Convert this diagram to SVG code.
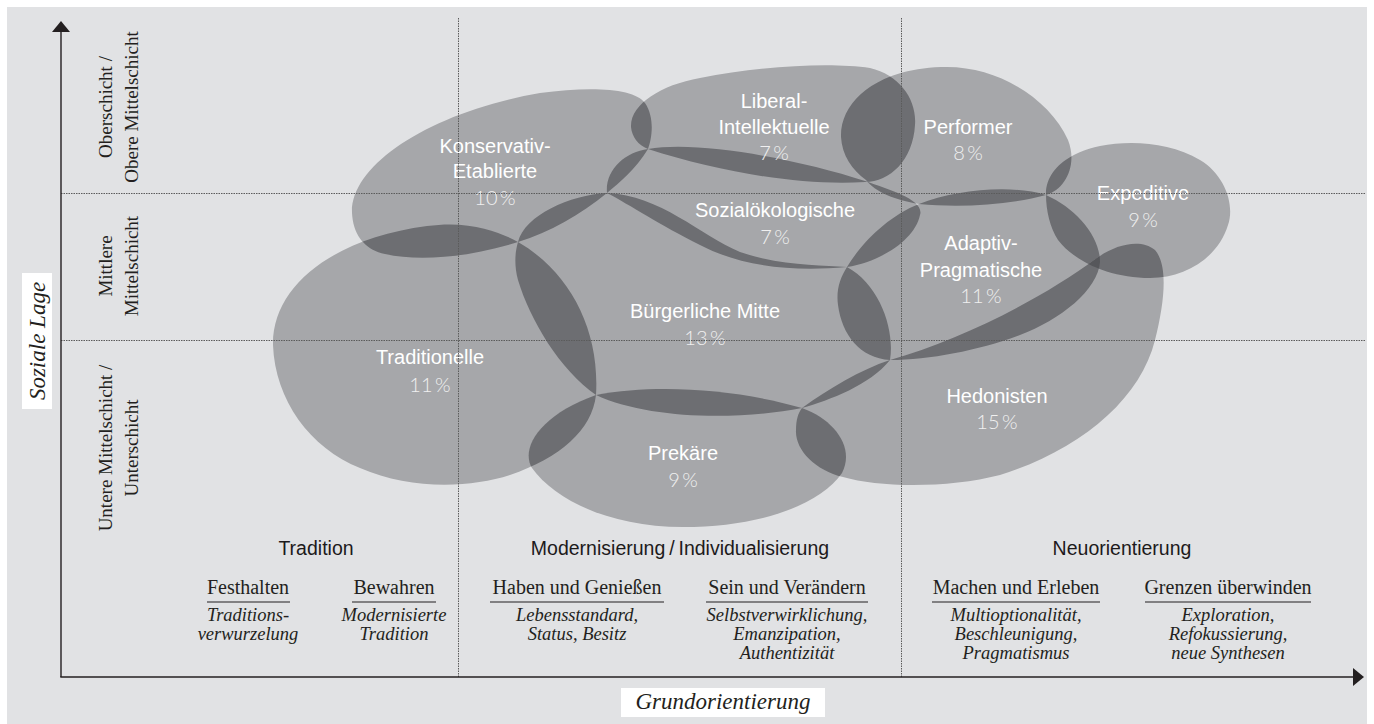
<svg xmlns="http://www.w3.org/2000/svg" xmlns:xlink="http://www.w3.org/1999/xlink" width="1374" height="724" viewBox="0 0 1374 724">
<style>
.blob{fill:#a6a7aa}
.ov{fill:#6d6e72}
.ov3{fill:#56575b}
.name{font-family:"Liberation Sans",Arial,sans-serif;font-size:20px;fill:#ffffff;text-anchor:middle}
.pct{font-family:"Lato","Liberation Sans",sans-serif;font-weight:300;font-size:20px;fill:#f0f0f0;text-anchor:middle}
.grid{stroke:#5b5b5b;stroke-width:1;stroke-dasharray:1.5 1;fill:none}
.axis{stroke:#231f20;stroke-width:1.4;fill:none}
.sec{font-family:"Liberation Sans",Arial,sans-serif;font-size:19.5px;fill:#1d1a1b;text-anchor:middle}
.head{font-family:"Liberation Serif","Times New Roman",serif;font-size:20px;fill:#231f20;text-anchor:middle}
.desc{font-family:"Liberation Serif","Times New Roman",serif;font-style:italic;font-size:18.5px;fill:#231f20;text-anchor:middle}
.ul{stroke:#231f20;stroke-width:1.2}
.lvl{font-family:"Liberation Serif","Times New Roman",serif;font-size:19px;fill:#231f20;text-anchor:middle}
.title{font-family:"Liberation Serif","Times New Roman",serif;font-style:italic;font-size:23px;fill:#231f20;text-anchor:middle}
</style>
<defs>
<marker id="arrow" viewBox="0 0 11 18" refX="0" refY="9" markerWidth="11" markerHeight="18" markerUnits="userSpaceOnUse" orient="auto">
<path d="M0,0 L11,9 L0,18 Z" fill="#231f20"/>
</marker>
<path id="b-t" d="M 273,345 C 272,285 335,238 427,226 C 470,220 500,232 518,242 C 570,272 600,330 596,395 C 592,430 560,458 510,475 C 470,488 410,490 360,468 C 310,448 275,400 273,345 Z"/>
<path id="b-ke" d="M 352,213 C 350,165 430,112 540,93 C 590,86 635,88 645,103 C 655,118 652,138 648,149 C 635,170 620,182 607,193 C 580,215 550,232 518,242 C 470,257 420,262 385,254 C 362,249 353,232 352,213 Z"/>
<path id="b-bm" d="M 518,242 C 525,215 570,195 607,193 C 660,195 700,235 740,252 C 780,266 820,265 847,267 C 880,285 895,330 890,360 C 870,385 830,400 802,408 C 740,420 650,420 596,395 C 560,370 530,320 518,280 C 514,265 515,252 518,242 Z"/>
<path id="b-so" d="M 607,193 C 605,170 625,152 648,149 C 700,140 800,160 865,181 C 890,190 925,200 920,215 C 915,240 880,262 847,267 C 790,272 740,266 700,245 C 660,225 630,205 607,193 Z"/>
<path id="b-li" d="M 631,127 C 630,105 660,85 700,78 C 760,66 830,62 870,68 C 900,75 917,100 915,125 C 913,160 890,182 865,182 C 800,186 720,172 648,149 C 638,145 632,137 631,127 Z"/>
<path id="b-pr" d="M 596,395 C 660,383 740,390 802,408 C 835,420 855,448 842,473 C 820,505 760,527 683,527 C 610,527 555,500 532,468 C 520,448 540,415 596,395 Z"/>
<path id="b-ap" d="M 847,267 C 862,242 890,215 919,204 C 955,190 1010,184 1046,195 C 1075,208 1100,235 1100,262 C 1098,290 1060,320 1020,335 C 980,350 930,360 890,360 C 860,358 842,335 838,305 C 836,290 840,278 847,267 Z"/>
<path id="b-p" d="M 841,137 C 840,100 880,67 947,67 C 1000,67 1050,100 1068,140 C 1078,165 1065,190 1046,195 C 1010,205 960,208 919,204 C 895,200 875,192 866,180 C 852,170 842,155 841,137 Z"/>
<path id="b-e" d="M 1046,195 C 1045,170 1070,152 1100,146 C 1130,140 1170,142 1200,160 C 1225,175 1235,205 1228,225 C 1218,258 1185,278 1150,278 C 1110,278 1075,262 1058,240 C 1050,228 1046,210 1046,195 Z"/>
<path id="b-h" d="M 802,408 C 830,388 860,370 890,360 C 960,340 1040,300 1097,258 C 1115,245 1140,238 1155,250 C 1168,265 1165,300 1155,340 C 1140,400 1080,450 1000,475 C 950,488 880,488 843,477 C 815,470 795,450 796,430 C 796,420 798,413 802,408 Z"/>
<clipPath id="c-t"><use xlink:href="#b-t"/></clipPath>
<clipPath id="c-ke"><use xlink:href="#b-ke"/></clipPath>
<clipPath id="c-bm"><use xlink:href="#b-bm"/></clipPath>
<clipPath id="c-so"><use xlink:href="#b-so"/></clipPath>
<clipPath id="c-li"><use xlink:href="#b-li"/></clipPath>
<clipPath id="c-pr"><use xlink:href="#b-pr"/></clipPath>
<clipPath id="c-ap"><use xlink:href="#b-ap"/></clipPath>
<clipPath id="c-p"><use xlink:href="#b-p"/></clipPath>
<clipPath id="c-e"><use xlink:href="#b-e"/></clipPath>
</defs>

<rect x="0" y="0" width="1374" height="724" fill="#ffffff"/>
<rect id="panel" x="7" y="7" width="1360" height="717" fill="#e1e2e4"/>

<g id="traditionelle">
<use xlink:href="#b-t" class="blob"/>
<text class="name" x="430" y="364">Traditionelle</text>
<text class="pct" x="430" y="392">11&#8201;%</text>
</g>
<g id="konservativ-etablierte">
<use xlink:href="#b-ke" class="blob"/>
<use xlink:href="#b-ke" class="ov" clip-path="url(#c-t)"/>
<text class="name" x="495" y="153">Konservativ-</text>
<text class="name" x="495" y="178">Etablierte</text>
<text class="pct" x="495" y="205">10&#8201;%</text>
</g>
<g id="buergerliche-mitte">
<use xlink:href="#b-bm" class="blob"/>
<use xlink:href="#b-bm" class="ov" clip-path="url(#c-t)"/>
<use xlink:href="#b-bm" class="ov" clip-path="url(#c-ke)"/>
<text class="name" x="705" y="318">Bürgerliche Mitte</text>
<text class="pct" x="705" y="345">13&#8201;%</text>
</g>
<g id="sozialoekologische">
<use xlink:href="#b-so" class="blob"/>
<use xlink:href="#b-so" class="ov" clip-path="url(#c-ke)"/>
<use xlink:href="#b-so" class="ov" clip-path="url(#c-bm)"/>
<text class="name" x="775" y="217">Sozialökologische</text>
<text class="pct" x="775" y="244">7&#8201;%</text>
</g>
<g id="liberal-intellektuelle">
<use xlink:href="#b-li" class="blob"/>
<use xlink:href="#b-li" class="ov" clip-path="url(#c-ke)"/>
<use xlink:href="#b-li" class="ov" clip-path="url(#c-so)"/>
<text class="name" x="774" y="108">Liberal-</text>
<text class="name" x="774" y="134">Intellektuelle</text>
<text class="pct" x="774" y="160">7&#8201;%</text>
</g>
<g id="prekaere">
<use xlink:href="#b-pr" class="blob"/>
<use xlink:href="#b-pr" class="ov" clip-path="url(#c-t)"/>
<use xlink:href="#b-pr" class="ov" clip-path="url(#c-bm)"/>
<text class="name" x="683" y="460">Prekäre</text>
<text class="pct" x="683" y="487">9&#8201;%</text>
</g>
<g id="adaptiv-pragmatische">
<use xlink:href="#b-ap" class="blob"/>
<use xlink:href="#b-ap" class="ov" clip-path="url(#c-so)"/>
<use xlink:href="#b-ap" class="ov" clip-path="url(#c-bm)"/>
<text class="name" x="981" y="250">Adaptiv-</text>
<text class="name" x="981" y="277">Pragmatische</text>
<text class="pct" x="981" y="303">11&#8201;%</text>
</g>
<g id="performer">
<use xlink:href="#b-p" class="blob"/>
<use xlink:href="#b-p" class="ov" clip-path="url(#c-li)"/>
<use xlink:href="#b-p" class="ov" clip-path="url(#c-so)"/>
<use xlink:href="#b-p" class="ov" clip-path="url(#c-ap)"/>
<text class="name" x="968" y="134">Performer</text>
<text class="pct" x="968" y="160">8&#8201;%</text>
</g>
<g id="expeditive">
<use xlink:href="#b-e" class="blob"/>
<use xlink:href="#b-e" class="ov" clip-path="url(#c-p)"/>
<use xlink:href="#b-e" class="ov" clip-path="url(#c-ap)"/>
<text class="name" x="1143" y="200">Expeditive</text>
<text class="pct" x="1143" y="227">9&#8201;%</text>
</g>
<g id="hedonisten">
<use xlink:href="#b-h" class="blob"/>
<use xlink:href="#b-h" class="ov" clip-path="url(#c-bm)"/>
<use xlink:href="#b-h" class="ov" clip-path="url(#c-pr)"/>
<use xlink:href="#b-h" class="ov" clip-path="url(#c-ap)"/>
<use xlink:href="#b-h" class="ov" clip-path="url(#c-e)"/>
<g clip-path="url(#c-ap)"><use xlink:href="#b-h" class="ov3" clip-path="url(#c-e)"/></g>
<text class="name" x="997" y="403">Hedonisten</text>
<text class="pct" x="997" y="429">15&#8201;%</text>
</g>

<g id="grid">
<line class="grid" x1="61" y1="193.5" x2="1366" y2="193.5"/>
<line class="grid" x1="61" y1="340.5" x2="1366" y2="340.5"/>
<line class="grid" x1="458.5" y1="18" x2="458.5" y2="677"/>
<line class="grid" x1="901.5" y1="18" x2="901.5" y2="677"/>
</g>

<g id="connectors">
<line class="axis" x1="61" y1="677" x2="61" y2="32" marker-end="url(#arrow)"/>
<line class="axis" x1="60.3" y1="677" x2="1353" y2="677" marker-end="url(#arrow)"/>
</g>

<g id="y-levels">
<text class="lvl" transform="translate(112,107) rotate(-90)">Oberschicht /</text>
<text class="lvl" transform="translate(138,107) rotate(-90)">Obere Mittelschicht</text>
<text class="lvl" transform="translate(112,266) rotate(-90)">Mittlere</text>
<text class="lvl" transform="translate(138,266) rotate(-90)">Mittelschicht</text>
<text class="lvl" transform="translate(112,448) rotate(-90)">Untere Mittelschicht /</text>
<text class="lvl" transform="translate(138,448) rotate(-90)">Unterschicht</text>
</g>

<g id="y-title">
<rect x="22" y="273" width="30" height="136" fill="#ffffff"/>
<text class="title" transform="translate(45,341) rotate(-90)">Soziale Lage</text>
</g>

<g id="x-title">
<rect x="621" y="688" width="204" height="29" fill="#ffffff"/>
<text class="title" x="723" y="709">Grundorientierung</text>
</g>

<g id="sections">
<text class="sec" x="316" y="555">Tradition</text>
<text class="sec" x="680" y="555">Modernisierung&#8201;/&#8201;Individualisierung</text>
<text class="sec" x="1122" y="555">Neuorientierung</text>
</g>

<g id="col-festhalten">
<text class="head" x="248" y="594">Festhalten</text>
<line class="ul" x1="207" y1="602" x2="290" y2="602"/>
<text class="desc" x="248" y="621">Traditions-</text>
<text class="desc" x="248" y="640">verwurzelung</text>
</g>
<g id="col-bewahren">
<text class="head" x="394" y="594">Bewahren</text>
<line class="ul" x1="352" y1="602" x2="436" y2="602"/>
<text class="desc" x="394" y="621">Modernisierte</text>
<text class="desc" x="394" y="640">Tradition</text>
</g>
<g id="col-haben">
<text class="head" x="577" y="594">Haben und Genießen</text>
<line class="ul" x1="490" y1="602" x2="664" y2="602"/>
<text class="desc" x="577" y="621">Lebensstandard,</text>
<text class="desc" x="577" y="640">Status, Besitz</text>
</g>
<g id="col-sein">
<text class="head" x="787" y="594">Sein und Verändern</text>
<line class="ul" x1="706" y1="602" x2="868" y2="602"/>
<text class="desc" x="787" y="621">Selbstverwirklichung,</text>
<text class="desc" x="787" y="640">Emanzipation,</text>
<text class="desc" x="787" y="659">Authentizität</text>
</g>
<g id="col-machen">
<text class="head" x="1016" y="594">Machen und Erleben</text>
<line class="ul" x1="932" y1="602" x2="1100" y2="602"/>
<text class="desc" x="1016" y="621">Multioptionalität,</text>
<text class="desc" x="1016" y="640">Beschleunigung,</text>
<text class="desc" x="1016" y="659">Pragmatismus</text>
</g>
<g id="col-grenzen">
<text class="head" x="1228" y="594">Grenzen überwinden</text>
<line class="ul" x1="1145" y1="602" x2="1311" y2="602"/>
<text class="desc" x="1228" y="621">Exploration,</text>
<text class="desc" x="1228" y="640">Refokussierung,</text>
<text class="desc" x="1228" y="659">neue Synthesen</text>
</g>
</svg>
